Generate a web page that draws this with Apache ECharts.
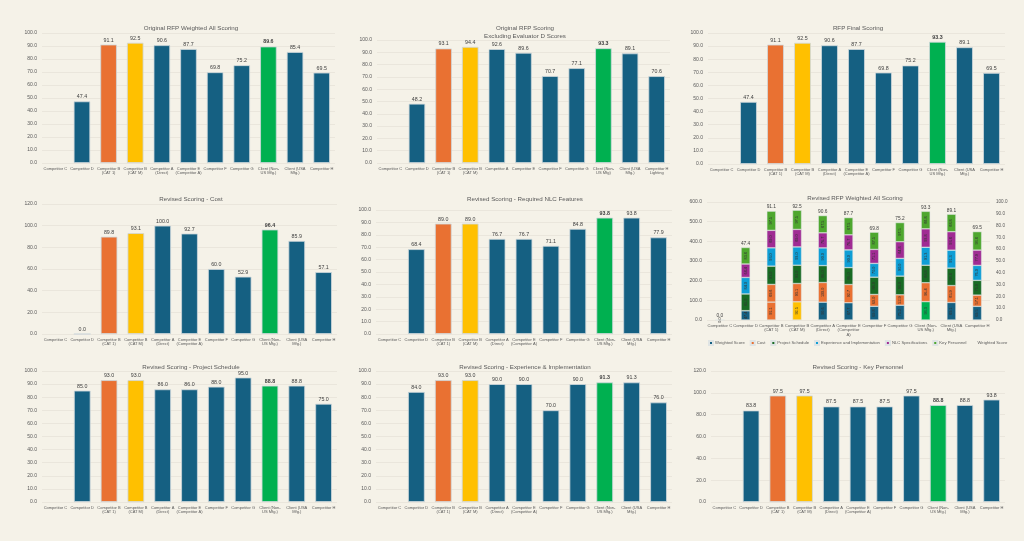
<!DOCTYPE html>
<html><head><meta charset="utf-8">
<script src="https://cdn.jsdelivr.net/npm/echarts@6/dist/echarts.min.js"></script>
<style>html,body{margin:0;padding:0;background:#f5f2e8;}#c{width:1024px;height:541px;}</style>
</head><body><div id="c"></div>
<script>
const categories = ['Competitor C','Competitor D','Competitor B\n(CAT 1)','Competitor B\n(CAT M)','Competitor A\n(Direct)','Competitor E\n(Competitor A)','Competitor F','Competitor G','Client (Non-\nUS Mfg.)','Client (USA\nMfg.)','Competitor H'];
const categoriesExcl = ['Competitor C','Competitor D','Competitor B\n(CAT 1)','Competitor B\n(CAT M)','Competitor A','Competitor E','Competitor F','Competitor G','Client (Non-\nUS Mfg)','Client (USA\nMfg.)','Competitor H\nLighting'];
const categoriesStack = ['Competitor C','Competitor D','Competitor B\n(CAT 1)','Competitor B\n(CAT M)','Competitor A\n(Direct)','Competitor E\n(Competitor\nA)','Competitor F','Competitor G','Client (Non-\nUS Mfg.)','Client (USA\nMfg.)','Competitor H'];

const originalWeighted = [null,47.4,91.1,92.5,90.6,87.7,69.8,75.2,89.6,85.4,69.5];
const originalExclD    = [null,48.2,93.1,94.4,92.6,89.6,70.7,77.1,93.3,89.1,70.6];
const finalScoring     = [null,47.4,91.1,92.5,90.6,87.7,69.8,75.2,93.3,89.1,69.5];
const costScores       = [null,0.0,89.8,93.1,100.0,92.7,60.0,52.9,96.4,85.9,57.1];
const nlcScores        = [null,68.4,89.0,89.0,76.7,76.7,71.1,84.8,93.8,93.8,77.9];
const scheduleScores   = [null,85.0,93.0,93.0,86.0,86.0,88.0,95.0,88.8,88.8,75.0];
const experienceScores = [null,84.0,93.0,93.0,90.0,90.0,70.0,90.0,91.3,91.3,76.0];
const personnelScores  = [null,83.8,97.5,97.5,87.5,87.5,87.5,97.5,88.8,88.8,93.8];
const stackWeighted    = [0.0,47.4,91.1,92.5,90.6,87.7,69.8,75.2,93.3,89.1,69.5];

const BLUE='#156082', ORANGE='#e97132', YELLOW='#ffc000', GREEN='#00b050';
const catColors=[BLUE,BLUE,ORANGE,YELLOW,BLUE,BLUE,BLUE,BLUE,GREEN,BLUE,BLUE];
const TXT='#595959';

const chart = echarts.init(document.getElementById('c'));
const titles=[], grids=[], xAxes=[], yAxes=[], series=[];

function fmt(v){return (v==null)?'':Number(v).toFixed(1);}

function addPanel(p){
  const gi=grids.length;
  grids.push({left:p.l, top:p.t, width:p.r-p.l, height:p.b-p.t, containLabel:false});
  titles.push({text:p.title, left:p.tx, top:p.ty, textAlign:'center',
    textStyle:{fontSize:6.2, fontWeight:'normal', color:TXT, fontFamily:'Liberation Sans', lineHeight:7.5}});
  const xi=xAxes.length;
  xAxes.push({type:'category', gridIndex:gi, data:p.cats,
    axisLine:{show:false}, axisTick:{show:false},
    axisLabel:{interval:0, fontSize:4, lineHeight:4.8, color:TXT, margin:3, fontFamily:'Liberation Sans'}});
  const yi=yAxes.length;
  yAxes.push({type:'value', gridIndex:gi, min:0, max:p.max, interval:p.interval,
    axisLine:{show:false}, axisTick:{show:false},
    splitLine:{lineStyle:{color:'#e2ded3', width:0.6}},
    axisLabel:{fontSize:5, color:TXT, margin:5, formatter:v=>v.toFixed(1), fontFamily:'Liberation Sans'}});
  return {gi,xi,yi};
}

function simplePanel(p, vals){
  const ix=addPanel(p);
  series.push({type:'bar', xAxisIndex:ix.xi, yAxisIndex:ix.yi, barCategoryGap:'38%',
    data: vals.map((v,j)=>({value:v, itemStyle:{color:catColors[j]},
      label:{fontWeight: j===8?'bold':'normal'}})),
    itemStyle:{borderColor:'#cfd8dc', borderWidth:0.8},
    label:{show:true, position:'top', distance:2, fontSize:5.3, color:'#404040', fontFamily:'Liberation Sans',
      formatter:q=>fmt(q.value)}});
}

simplePanel({l:42,r:335,t:33,b:163,max:100,interval:10,cats:categories,title:'Original RFP Weighted All Scoring',tx:186,ty:20}, originalWeighted);
simplePanel({l:377,r:670,t:40,b:163,max:100,interval:10,cats:categoriesExcl,title:'Original RFP Scoring\nExcluding Evaluator D Scores',tx:520,ty:20}, originalExclD);
simplePanel({l:708,r:1005,t:33,b:164,max:100,interval:10,cats:categories,title:'RFP Final Scoring',tx:853,ty:20}, finalScoring);
simplePanel({l:42,r:337,t:204,b:334,max:120,interval:20,cats:categories,title:'Revised Scoring - Cost',tx:186,ty:191}, costScores);
simplePanel({l:376,r:672,t:210,b:334,max:100,interval:10,cats:categories,title:'Revised Scoring - Required NLC Features',tx:520,ty:191}, nlcScores);
simplePanel({l:42,r:337,t:371,b:502,max:100,interval:10,cats:categories,title:'Revised Scoring - Project Schedule',tx:186,ty:359}, scheduleScores);
simplePanel({l:376,r:672,t:371,b:502,max:100,interval:10,cats:categories,title:'Revised Scoring - Experience & Implementation',tx:520,ty:359}, experienceScores);
simplePanel({l:711,r:1005,t:371,b:502,max:120,interval:20,cats:categories,title:'Revised Scoring - Key Personnel',tx:853,ty:359}, personnelScores);

// stacked panel
const sp=addPanel({l:707,r:990,t:202,b:320,max:600,interval:100,cats:categoriesStack,title:'Revised RFP Weighted All Scoring',tx:850,ty:190});
const yRight=yAxes.length;
yAxes.push({type:'value', gridIndex:sp.gi, position:'right', min:0, max:100, interval:10,
  axisLine:{show:false}, axisTick:{show:false}, splitLine:{show:false},
  axisLabel:{fontSize:4.6, color:TXT, margin:6, formatter:v=>v.toFixed(1), fontFamily:'Liberation Sans'}});
xAxes[sp.xi].axisLabel.fontSize=4.2;

const stackDefs=[
  {name:'Weighted Score', data:stackWeighted, color:BLUE, perColor:true},
  {name:'Cost', data:costScores, color:ORANGE},
  {name:'Project Schedule', data:scheduleScores, color:'#196b24'},
  {name:'Experience and Implementation', data:experienceScores, color:'#0f9ed5'},
  {name:'NLC Specifications', data:nlcScores, color:'#a02b93'},
  {name:'Key Personnel', data:personnelScores, color:'#4ea72e'}
];
stackDefs.forEach((d,k)=>{
  series.push({type:'bar', name:d.name, stack:'tot', xAxisIndex:sp.xi, yAxisIndex:sp.yi, barWidth:9,
    itemStyle:{color:d.color, borderColor:'#dfe4e4', borderWidth:0.5},
    data: d.data.map((v,j)=> d.perColor ? {value:v, itemStyle:{color:catColors[j]}} : v),
    label:{show:true, position:'inside', rotate:90, fontSize:3.8, color:'#333', fontFamily:'Liberation Sans',
      formatter:q=>{ if(q.value==null) return ''; if(q.value===0 && k>0) return ''; return fmt(q.value);} }});
});
// totals label carrier (zero height, sits on top of stack)
series.push({type:'bar', name:'_top', stack:'tot', xAxisIndex:sp.xi, yAxisIndex:sp.yi, barWidth:9,
  data: stackWeighted.map(()=>0), itemStyle:{color:'transparent'},
  label:{show:true, position:'top', distance:1.5, fontSize:4.8, color:'#404040', fontFamily:'Liberation Sans',
    formatter:q=>fmt(stackWeighted[q.dataIndex])}});
series.push({type:'line', name:'Weighted Score ', xAxisIndex:sp.xi, yAxisIndex:yRight, data:stackWeighted,
  symbol:'none', lineStyle:{opacity:0}, itemStyle:{color:'rgba(0,0,0,0)'}, silent:true});

chart.setOption({
  backgroundColor:'#f5f2e8',
  animation:false,
  title:titles, grid:grids, xAxis:xAxes, yAxis:yAxes, series:series,
  legend:{data:['Weighted Score','Cost','Project Schedule','Experience and Implementation','NLC Specifications','Key Personnel','Weighted Score '],
    left:708, right:0, top:340, padding:0, orient:'horizontal', itemWidth:4, itemHeight:4, itemGap:5, icon:'rect',
    textStyle:{fontSize:4.2, color:TXT, fontFamily:'Liberation Sans', padding:[0,0,0,-3]}}
});
</script></body></html>
